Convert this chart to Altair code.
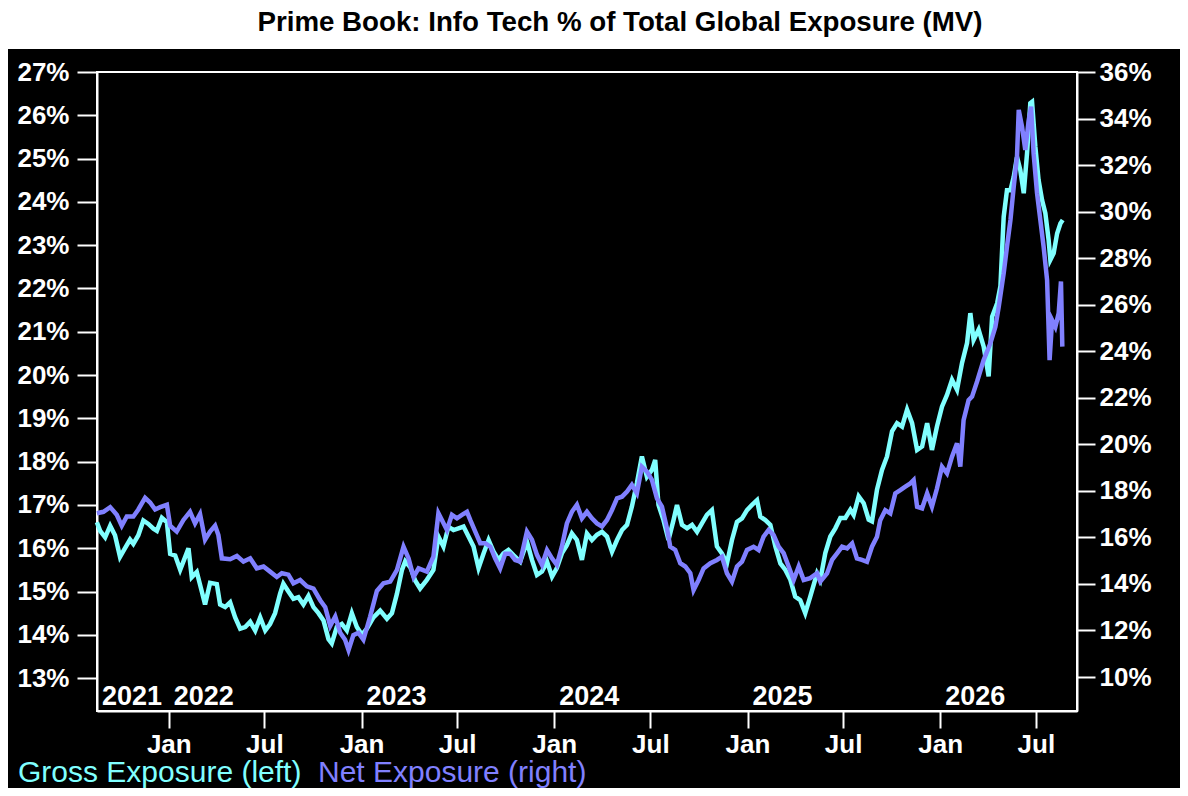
import altair as alt
import pandas as pd

# ---- data (decimal year, percent) ----
gross_t = [2021.627, 2021.644, 2021.670, 2021.696, 2021.721, 2021.747, 2021.773, 2021.799, 2021.816, 2021.842,
           2021.868, 2021.894, 2021.920, 2021.938, 2021.964, 2021.990, 2022.007, 2022.033, 2022.059, 2022.085,
           2022.102, 2022.119, 2022.145, 2022.171, 2022.188, 2022.214, 2022.249, 2022.266, 2022.292, 2022.318,
           2022.344, 2022.370, 2022.396, 2022.422, 2022.448, 2022.474, 2022.500, 2022.525, 2022.551, 2022.577,
           2022.594, 2022.620, 2022.646, 2022.672, 2022.698, 2022.724, 2022.750, 2022.776, 2022.802, 2022.828,
           2022.845, 2022.871, 2022.897, 2022.923, 2022.949, 2022.975, 2023.001, 2023.027, 2023.061, 2023.096,
           2023.131, 2023.157, 2023.183, 2023.209, 2023.226, 2023.252, 2023.278, 2023.303, 2023.338, 2023.372,
           2023.398, 2023.424, 2023.450, 2023.476, 2023.502, 2023.528, 2023.554, 2023.580, 2023.606, 2023.632,
           2023.658, 2023.684, 2023.710, 2023.735, 2023.761, 2023.787, 2023.822, 2023.857, 2023.883, 2023.909,
           2023.935, 2023.961, 2023.987, 2024.012, 2024.038, 2024.064, 2024.090, 2024.116, 2024.142, 2024.168,
           2024.194, 2024.220, 2024.246, 2024.272, 2024.298, 2024.324, 2024.350, 2024.376, 2024.401, 2024.427,
           2024.453, 2024.479, 2024.505, 2024.522, 2024.539, 2024.565, 2024.591, 2024.617, 2024.635, 2024.661,
           2024.687, 2024.713, 2024.739, 2024.765, 2024.790, 2024.816, 2024.842, 2024.868, 2024.894, 2024.920,
           2024.946, 2024.972, 2024.998, 2025.024, 2025.050, 2025.067, 2025.093, 2025.119, 2025.145, 2025.171,
           2025.197, 2025.223, 2025.248, 2025.274, 2025.300, 2025.326, 2025.361, 2025.378, 2025.404, 2025.430,
           2025.456, 2025.482, 2025.508, 2025.534, 2025.551, 2025.577, 2025.603, 2025.629, 2025.646, 2025.672,
           2025.698, 2025.724, 2025.750, 2025.776, 2025.802, 2025.828, 2025.854, 2025.880, 2025.906, 2025.932,
           2025.957, 2025.983, 2026.009, 2026.035, 2026.061, 2026.087, 2026.113, 2026.139, 2026.156, 2026.173,
           2026.199, 2026.225, 2026.251, 2026.269, 2026.295, 2026.312, 2026.329, 2026.346, 2026.364, 2026.381,
           2026.398, 2026.415, 2026.433, 2026.450, 2026.467, 2026.476, 2026.493, 2026.510, 2026.528, 2026.545,
           2026.562, 2026.571, 2026.588, 2026.606, 2026.623, 2026.635]
gross_v = [16.6, 16.4, 16.25, 16.52, 16.3, 15.8, 16.0, 16.2, 16.1, 16.3,
           16.64, 16.56, 16.45, 16.4, 16.7, 16.6, 15.87, 15.83, 15.5, 15.8,
           16.0, 15.33, 15.45, 15.0, 14.7, 15.2, 15.17, 14.7, 14.64, 14.75,
           14.4, 14.14, 14.18, 14.3, 14.1, 14.4, 14.1, 14.25, 14.5, 14.95,
           15.18, 15.0, 14.83, 14.87, 14.7, 14.9, 14.64, 14.5, 14.33, 13.9,
           13.8, 14.18, 14.25, 14.1, 14.5, 14.18, 14.0, 14.14, 14.4, 14.56,
           14.37, 14.5, 14.95, 15.5, 15.7, 15.56, 15.25, 15.07, 15.27, 15.5,
           16.27, 16.04, 16.5, 16.42, 16.46, 16.5, 16.27, 16.04, 15.54, 15.88,
           16.19, 15.92, 15.73, 15.88, 15.96, 15.84, 15.69, 16.15, 15.73, 15.38,
           15.46, 15.69, 15.34, 15.54, 15.88, 16.07, 16.34, 16.19, 15.73, 16.34,
           16.19, 16.31, 16.38, 16.27, 15.92, 16.19, 16.42, 16.54, 16.96, 17.5,
           18.12, 17.65, 17.81, 18.04, 17.0, 16.65, 16.19, 16.65, 17.0, 16.54,
           16.46, 16.54, 16.38, 16.58, 16.77, 16.88, 16.04, 15.88, 15.65, 16.19,
           16.61, 16.69, 16.88, 17.0, 17.11, 16.73, 16.65, 16.54, 16.04, 15.65,
           15.5, 15.27, 14.88, 14.8, 14.5, 14.88, 15.42, 15.27, 15.89, 16.27,
           16.46, 16.7, 16.7, 16.89, 16.77, 17.2, 17.04, 16.66, 16.62, 17.35,
           17.81, 18.12, 18.7, 18.89, 18.81, 19.2, 18.89, 18.27, 18.35, 18.89,
           18.27, 18.81, 19.27, 19.54, 19.89, 19.66, 20.28, 20.74, 21.43, 20.81,
           21.05, 20.66, 19.97, 21.35, 21.66, 22.05, 23.66, 24.27, 24.27, 24.58,
           25.04, 24.74, 24.2, 25.12, 26.28, 26.31, 25.28, 24.5, 24.04, 23.74,
           23.12, 22.66, 22.81, 23.27, 23.5, 23.58]

net_t = [2021.627, 2021.661, 2021.696, 2021.730, 2021.756, 2021.782, 2021.816, 2021.842, 2021.877, 2021.903,
         2021.929, 2021.955, 2021.990, 2022.007, 2022.041, 2022.076, 2022.110, 2022.136, 2022.162, 2022.188,
         2022.214, 2022.240, 2022.257, 2022.275, 2022.318, 2022.353, 2022.387, 2022.422, 2022.456, 2022.491,
         2022.525, 2022.560, 2022.586, 2022.620, 2022.646, 2022.681, 2022.716, 2022.750, 2022.785, 2022.811,
         2022.837, 2022.863, 2022.889, 2022.914, 2022.932, 2022.957, 2022.983, 2023.009, 2023.044, 2023.079,
         2023.113, 2023.148, 2023.183, 2023.217, 2023.243, 2023.269, 2023.295, 2023.338, 2023.372, 2023.398,
         2023.416, 2023.442, 2023.468, 2023.494, 2023.520, 2023.546, 2023.563, 2023.589, 2023.615, 2023.641,
         2023.667, 2023.692, 2023.718, 2023.744, 2023.770, 2023.796, 2023.822, 2023.857, 2023.883, 2023.909,
         2023.935, 2023.961, 2023.987, 2024.012, 2024.038, 2024.064, 2024.090, 2024.116, 2024.142, 2024.168,
         2024.194, 2024.220, 2024.246, 2024.272, 2024.298, 2024.324, 2024.350, 2024.376, 2024.401, 2024.427,
         2024.453, 2024.479, 2024.505, 2024.531, 2024.557, 2024.583, 2024.600, 2024.626, 2024.652, 2024.678,
         2024.704, 2024.721, 2024.747, 2024.773, 2024.808, 2024.842, 2024.868, 2024.894, 2024.920, 2024.946,
         2024.972, 2024.998, 2025.032, 2025.058, 2025.084, 2025.110, 2025.136, 2025.162, 2025.188, 2025.214,
         2025.240, 2025.266, 2025.292, 2025.326, 2025.361, 2025.378, 2025.413, 2025.439, 2025.465, 2025.491,
         2025.517, 2025.543, 2025.568, 2025.594, 2025.620, 2025.646, 2025.672, 2025.689, 2025.715, 2025.741,
         2025.767, 2025.793, 2025.819, 2025.845, 2025.862, 2025.880, 2025.906, 2025.932, 2025.957, 2025.983,
         2026.009, 2026.035, 2026.061, 2026.087, 2026.104, 2026.121, 2026.147, 2026.165, 2026.191, 2026.225,
         2026.260, 2026.286, 2026.303, 2026.329, 2026.346, 2026.364, 2026.381, 2026.398, 2026.407, 2026.424,
         2026.441, 2026.459, 2026.471, 2026.484, 2026.502, 2026.519, 2026.536, 2026.554, 2026.567, 2026.580,
         2026.597, 2026.614, 2026.626, 2026.633]
net_v = [17.04, 17.1, 17.3, 16.97, 16.5, 16.9, 16.9, 17.2, 17.7, 17.5,
         17.2, 17.3, 17.4, 16.5, 16.25, 16.75, 17.1, 16.6, 17.0, 15.9,
         16.25, 16.5, 16.1, 15.1, 15.06, 15.2, 14.96, 15.1, 14.67, 14.75,
         14.53, 14.3, 14.46, 14.4, 14.03, 14.17, 13.9, 13.8, 13.3, 13.0,
         12.2, 12.6, 11.9, 11.6, 11.16, 11.8, 11.9, 11.6, 12.6, 13.7,
         14.03, 14.1, 14.6, 15.6, 15.1, 14.3, 14.67, 14.53, 15.17, 17.04,
         16.75, 16.32, 16.97, 16.82, 16.97, 17.1, 16.75, 16.25, 15.75, 15.75,
         15.6, 15.1, 14.67, 15.3, 15.3, 15.03, 14.96, 16.25, 15.9, 15.25,
         14.82, 15.46, 15.1, 14.82, 15.6, 16.6, 17.1, 17.4, 16.82, 17.1,
         16.82, 16.6, 16.47, 16.75, 17.18, 17.68, 17.75, 17.97, 18.26, 17.9,
         19.04, 18.83, 18.47, 17.68, 17.32, 16.39, 15.6, 15.46, 14.89, 14.75,
         14.46, 13.74, 14.17, 14.67, 14.89, 15.03, 15.17, 14.46, 14.1, 14.75,
         14.96, 15.46, 15.6, 15.46, 16.03, 16.32, 16.1, 15.6, 15.32, 14.75,
         14.17, 14.75, 14.17, 14.25, 14.46, 14.1, 14.45, 15.03, 15.31, 15.6,
         15.53, 15.74, 15.1, 15.03, 14.95, 15.6, 16.03, 16.74, 17.17, 17.03,
         17.89, 18.03, 18.18, 18.32, 18.46, 17.32, 17.25, 17.89, 17.32, 18.1,
         19.04, 18.75, 19.47, 20.04, 19.04, 21.04, 21.9, 22.05, 22.7, 23.62,
         24.34, 25.05, 25.9, 27.35, 28.49, 29.64, 31.07, 32.36, 34.37, 33.65,
         32.65, 33.94, 34.51, 32.5, 30.79, 29.64, 28.49, 27.06, 23.62, 25.34,
         25.05, 25.63, 27.0, 24.2]

left_ticks = list(range(13, 28))
right_ticks = list(range(10, 37, 2))
year_labels = ["2021", "2022", "2023", "2024", "2025", "2026"]
year_dates = ["2021-08-18", "2022-01-01", "2023-01-01", "2024-01-01", "2025-01-01", "2026-01-01"]
month_ticks = [(y, m) for y in range(2022, 2027) for m in (1, 7)]

TITLE = "Prime Book: Info Tech % of Total Global Exposure (MV)"
GROSS_LABEL = "Gross Exposure (left)"
NET_LABEL = "Net Exposure (right)"
CYAN = "#80FFFF"
PURPLE = "#8080FF"
FONT = "Liberation Sans"


def to_dates(ts):
    base = pd.Timestamp("2022-01-01")
    return [base + pd.Timedelta(days=(t - 2022) * 365.25) for t in ts]


gross_df = pd.DataFrame({"date": to_dates(gross_t), "value": gross_v})
net_df = pd.DataFrame({"date": to_dates(net_t), "value": net_v})
years_df = pd.DataFrame({"date": pd.to_datetime(year_dates), "label": year_labels})
one = pd.DataFrame({"k": [0]})

W, H = 980, 639

xscale = alt.Scale(domain=[alt.DateTime(year=2021, month=8, date=18),
                           alt.DateTime(year=2026, month=9, date=17)])
xaxis = alt.Axis(values=[alt.DateTime(year=y, month=m, date=1) for y, m in month_ticks],
                 format="%b", tickSize=17, labelPadding=3, labelFlush=False,
                 labelOverlap=False, title=None)

band = alt.Chart(one).mark_rect(color="white").encode(
    x=alt.value(-89), x2=alt.value(W + 103), y=alt.value(-64), y2=alt.value(-23))

gross = alt.Chart(gross_df).mark_line(color=CYAN, strokeWidth=4.5).encode(
    x=alt.X("date:T", scale=xscale, axis=xaxis),
    y=alt.Y("value:Q", scale=alt.Scale(domain=[12.24, 27], nice=False, zero=False),
            axis=alt.Axis(orient="left", values=left_ticks, labelExpr="datum.value + '%'",
                          tickSize=20, labelPadding=8, labelOverlap=False, title=None)))

net = alt.Chart(net_df).mark_line(color=PURPLE, strokeWidth=4.5).encode(
    x=alt.X("date:T", scale=xscale, axis=xaxis),
    y=alt.Y("value:Q", scale=alt.Scale(domain=[8.54, 36], nice=False, zero=False),
            axis=alt.Axis(orient="right", values=right_ticks, labelExpr="datum.value + '%'",
                          tickSize=18, labelPadding=4, labelOverlap=False, title=None)))

years = alt.Chart(years_df).mark_text(align="left", baseline="alphabetic", dx=5,
                                      fontSize=27, fontWeight="bold", font=FONT,
                                      color="white").encode(
    x=alt.X("date:T", scale=xscale), y=alt.value(633), text="label:N")

title = alt.Chart(one).mark_text(text=TITLE, align="center", baseline="middle",
                                 fontSize=27.7, fontWeight="bold", font=FONT,
                                 color="black").encode(x=alt.value(523), y=alt.value(-49))

leg1 = alt.Chart(one).mark_text(text=GROSS_LABEL, align="left", baseline="alphabetic",
                                fontSize=30, font=FONT, color=CYAN).encode(
    x=alt.value(-79), y=alt.value(710))
leg2 = alt.Chart(one).mark_text(text=NET_LABEL, align="left", baseline="alphabetic",
                                fontSize=30, font=FONT, color=PURPLE).encode(
    x=alt.value(221), y=alt.value(710))

chart = alt.layer(band, gross, net, years, title, leg1, leg2).resolve_scale(
    y="independent"
).properties(
    width=W, height=H,
    padding={"left": 89, "top": 64, "right": 103, "bottom": 77},
    autosize=alt.AutoSizeParams(type="none"),
    background="black",
).configure_view(
    stroke="white", strokeWidth=2
).configure_axis(
    domainColor="white", tickColor="white", labelColor="white",
    domainWidth=2, tickWidth=2, grid=False,
    labelFont=FONT, labelFontSize=26, labelFontWeight="bold",
)

chart.save("out.html", embed_options={"renderer": "svg", "actions": False})
